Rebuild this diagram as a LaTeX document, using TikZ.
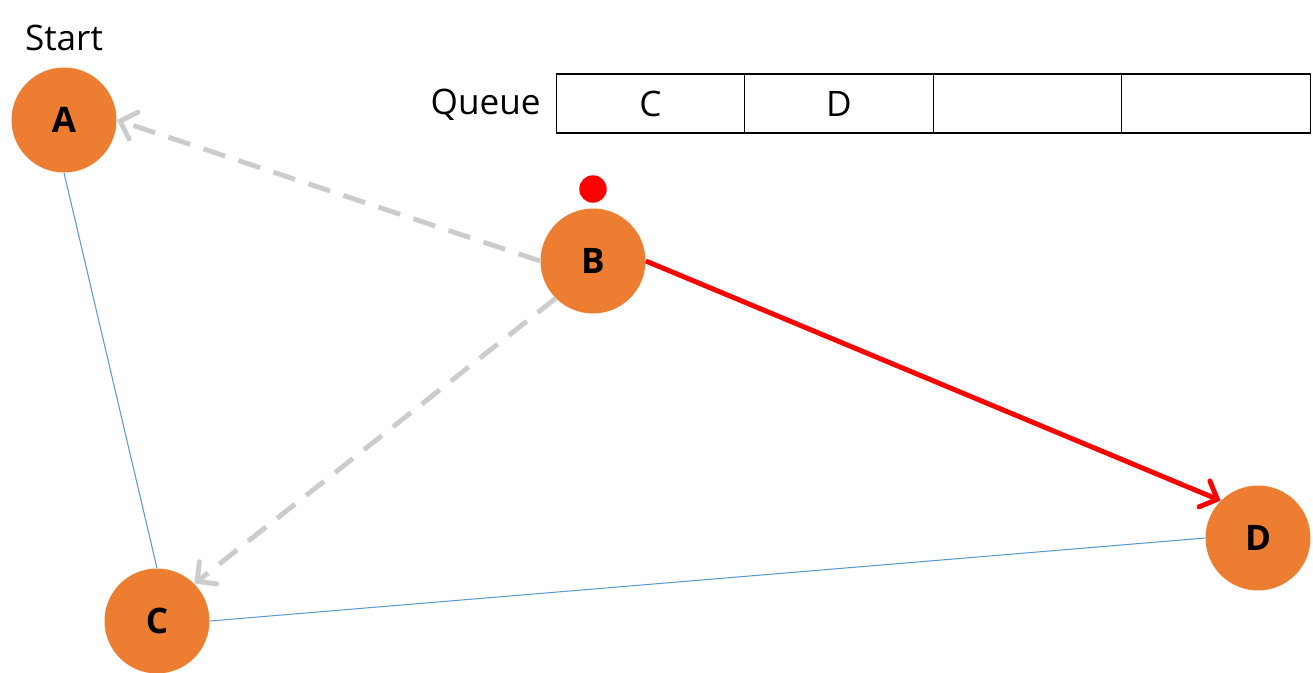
\documentclass[tikz,border=0pt]{standalone}
\usepackage{fontspec}
\setmainfont{Open Sans}
\usetikzlibrary{arrows.meta}
\definecolor{nodeorange}{RGB}{237,125,49}
\definecolor{edgeblue}{RGB}{91,155,213}
\definecolor{edgegray}{RGB}{204,204,204}
\definecolor{edgered}{RGB}{255,0,0}
\begin{document}
\begin{tikzpicture}[x=0.02cm,y=-0.02cm,
  vertex/.style={circle,fill=nodeorange,minimum size=2.1cm,inner sep=0pt,font=\fontsize{20}{24}\selectfont\bfseries},
  plain/.style={draw=edgeblue,line width=0.6pt},
  visited/.style={draw=edgegray,line width=2.8pt,dash pattern=on 13pt off 8pt,-{Straight Barb[length=8pt,width=16pt,line width=2.8pt,line cap=round]}},
  current/.style={draw=edgered,line width=2.8pt,-{Straight Barb[length=8pt,width=16pt,line width=2.8pt,line cap=round]}},
  cell/.style={draw,line width=0.8pt,minimum width=3.77cm,minimum height=1.18cm,inner sep=0pt,font=\fontsize{20}{24}\selectfont},
  lbl/.style={font=\fontsize{20}{24}\selectfont,inner sep=0pt}]
\useasboundingbox (0,0) rectangle (1313,673);
\node[vertex] (A) at (64,120) {A};
\node[vertex] (B) at (593,261) {B};
\node[vertex] (C) at (157,621) {C};
\node[vertex] (D) at (1258,538) {D};
\node[circle,fill=edgered,minimum size=0.55cm,inner sep=0pt] (dot) at (593,189) {};
\node[lbl] (start) at (64,38) {Start};
\node[cell] (q1) at (650.5,103.5) {C};
\node[cell] (q2) at (839,103.5) {D};
\node[cell] (q3) at (1027.5,103.5) {};
\node[cell] (q4) at (1216,103.5) {};
\node[lbl,anchor=east] (queue) at (541,105) {Queue};
\draw[plain] (A.south) -- (C.north);
\draw[plain] (C.east) -- (D.west);
\draw[visited] (B.west) -- (A.east);
\draw[visited] (B.225) -- (C.45);
\draw[current] (B.east) -- (D.135);
\end{tikzpicture}
\end{document}
